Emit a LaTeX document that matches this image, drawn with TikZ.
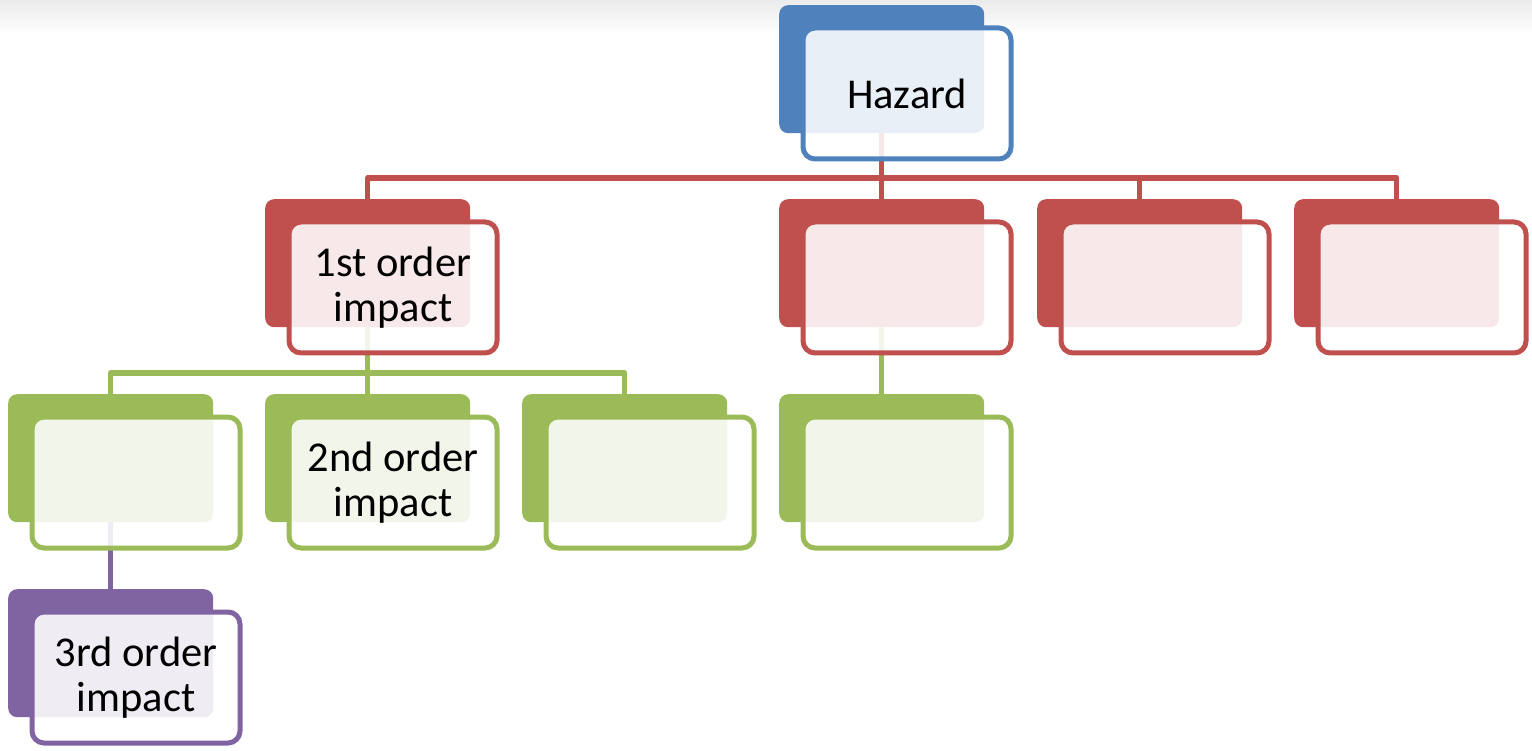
\documentclass[tikz,border=0pt]{standalone}
\usepackage{fontspec}
\setmainfont{Carlito}
\definecolor{cblue}{HTML}{4F81BD}
\definecolor{cred}{HTML}{C0504D}
\definecolor{cgreen}{HTML}{9BBB59}
\definecolor{cpurple}{HTML}{8064A2}
\pgfdeclarelayer{bgzero}
\pgfdeclarelayer{bglines}
\pgfsetlayers{bgzero,bglines,main}
\newcommand\impbox[5]{%
  \node[backbox=#4] (#1b) at (#2,#3) {};
  \node[frontbox=#4] (#1f) at (#2+21.5,#3+20.5) {#5};
}
\begin{document}
\begin{tikzpicture}[x=1pt,y=-1pt,
  backbox/.style={draw=none, fill=#1, rounded corners=9pt, minimum width=205pt,
    minimum height=128pt, anchor=north west, inner sep=0pt},
  frontbox/.style={draw=#1, line width=5pt, fill=white, fill opacity=0.88,
    draw opacity=1, text opacity=1, rounded corners=12pt, minimum width=208pt,
    minimum height=131pt, anchor=north west, inner sep=0pt, align=center,
    font=\fontsize{42.5}{45.5}\selectfont},
  conn/.style={draw=#1, line width=5.5pt, line join=round}]
\useasboundingbox (0,0) rectangle (1532,751);
\begin{pgfonlayer}{bgzero}
  \shade[top color=black!8, bottom color=white, draw=none] (0,0) rectangle (1532,34);
\end{pgfonlayer}

\impbox{h}{779}{5}{cblue}{Hazard}
\impbox{ra}{265}{199}{cred}{1st order\\impact}
\impbox{rb}{779}{199}{cred}{}
\impbox{rc}{1037}{199}{cred}{}
\impbox{rd}{1294}{199}{cred}{}
\impbox{ga}{8}{394}{cgreen}{}
\impbox{gb}{265}{394}{cgreen}{2nd order\\impact}
\impbox{gc}{522}{394}{cgreen}{}
\impbox{gd}{779}{394}{cgreen}{}
\impbox{pa}{8}{589}{cpurple}{3rd order\\impact}

\coordinate (rbus) at (0,178);
\coordinate (gbus) at (0,373);
\begin{pgfonlayer}{bglines}
  \draw[conn=cred] (hb.south) -- (hb.south |- rbus);
  \draw[conn=cred] (rab.north) |- (rdb.north |- rbus) -- (rdb.north);
  \draw[conn=cred] (rbb.north) -- (rbb.north |- rbus);
  \draw[conn=cred] (rcb.north) -- (rcb.north |- rbus);
  \draw[conn=cgreen] (rab.south) -- (gbb.north);
  \draw[conn=cgreen] (gab.north) |- (gcb.north |- gbus) -- (gcb.north);
  \draw[conn=cgreen] (rbb.south) -- (gdb.north);
  \draw[conn=cpurple] (gab.south) -- (pab.north);
\end{pgfonlayer}
\end{tikzpicture}
\end{document}
